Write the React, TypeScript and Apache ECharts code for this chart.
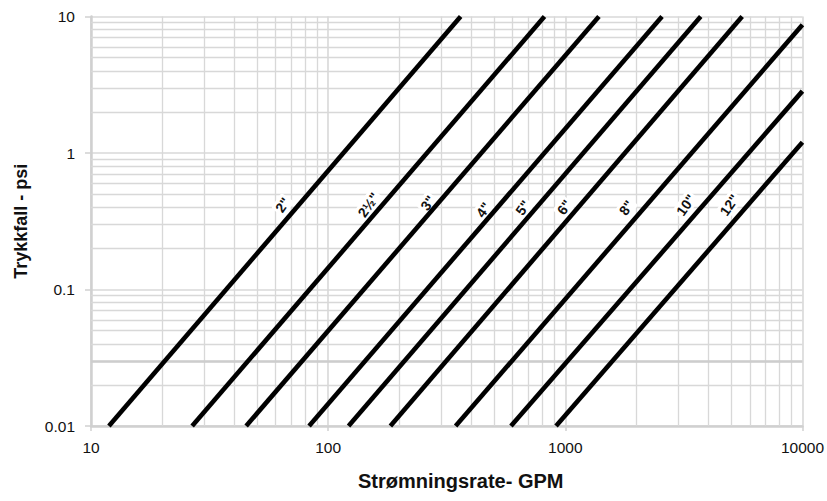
import React, { useEffect, useRef } from 'react';
import * as echarts from 'echarts';

// Pipe sizes and their straight pressure-drop lines (log-log)
const sizes = ['2"', '2½"', '3"', '4"', '5"', '6"', '8"', '10"', '12"'];
const startFlow = [11.9, 26.7, 45.1, 83.1, 121.9, 183, 344.8, 590, 914]; // GPM at 0.01 psi
const startDrop = [0.01, 0.01, 0.01, 0.01, 0.01, 0.01, 0.01, 0.01, 0.01];
const endFlow = [362, 817, 1386, 2558, 3724, 5570, 10000, 10000, 10000];
const endDrop = [10, 10, 10, 10, 10, 10, 8.7, 2.84, 1.2];

// label anchor points (data coords)
const labelFlow = [64.3, 147.8, 263, 451, 662, 990, 1810, 3222, 4918];
const labelDrop = [0.416, 0.416, 0.43, 0.383, 0.397, 0.4, 0.397, 0.416, 0.416];

// axes
const xMin = 10;
const xMax = 10000;
const yMin = 0.01;
const yMax = 10;
const xDecades = [10, 100, 1000];
const yDecades = [0.01, 0.1, 1];
const minorSteps = [2, 3, 4, 5, 6, 7, 8, 9];
const heavyY = [0.03];

const xTitle = 'Strømningsrate- GPM';
const yTitle = 'Trykkfall - psi';

const tickFont = '"Liberation Sans", Arial, sans-serif';
const titleFont = '"Liberation Sans", Arial, sans-serif';

export default function App() {
  const ref = useRef<HTMLDivElement>(null);
  useEffect(() => {
    const chart = echarts.init(ref.current!, null, { renderer: 'svg' });
    const gridColor = '#d8d8d8';
    const minorX = xDecades.flatMap((d) => minorSteps.map((m) => +(d * m).toPrecision(6)));
    const minorY = yDecades.flatMap((d) => minorSteps.map((m) => +(d * m).toPrecision(6)));
    const fmt = (v: number) => String(+Number(v).toPrecision(6));

    const gridSeries: any = {
      type: 'line',
      name: 'grid',
      data: [[xMin, yMin]],
      symbol: 'none',
      lineStyle: { opacity: 0 },
      silent: true,
      z: 1,
      markLine: {
        silent: true,
        z: 1,
        symbol: ['none', 'none'],
        label: { show: false },
        animation: false,
        lineStyle: { color: gridColor, width: 1.3, type: 'solid' },
        data: [
          ...minorX.map((v) => ({ xAxis: v })),
          ...minorY.map((v) => ({ yAxis: v })),
          ...heavyY.map((v) => ({ yAxis: v, lineStyle: { color: '#cdcdcd', width: 2.6, type: 'solid' } })),
        ],
      },
    };

    const lineSeries = sizes.map((s, i) => ({
      type: 'line',
      name: s,
      data: [
        [startFlow[i], startDrop[i]],
        [endFlow[i], endDrop[i]],
      ],
      symbol: 'none',
      showSymbol: false,
      lineStyle: { color: '#000', width: 4.6, type: 'solid' },
      z: 4,
      markPoint: {
        symbol: 'circle',
        symbolSize: 0,
        silent: true,
        z: 2,
        animation: false,
        data: [{ coord: [labelFlow[i], labelDrop[i]], name: s }],
        label: {
          show: true,
          position: 'inside',
          formatter: s,
          rotate: 55,
          color: '#111',
          fontWeight: 'bold',
          fontSize: 14,
          fontFamily: tickFont,
          backgroundColor: '#fff',
          padding: [1, 2],
          borderRadius: 3,
        },
      },
    }));

    chart.setOption({
      animation: false,
      backgroundColor: '#fff',
      grid: { left: 91, right: 16, top: 16.5, bottom: 75, containLabel: false },
      xAxis: {
        type: 'log',
        logBase: 10,
        min: xMin,
        max: xMax,
        name: xTitle,
        nameLocation: 'middle',
        nameGap: 45,
        nameTextStyle: {
          fontFamily: titleFont,
          fontWeight: 'bold',
          fontSize: 20,
          color: '#111',
          padding: [0, 0, 0, 28],
        },
        axisLine: { show: true, lineStyle: { color: '#d0d0d0', width: 2.5 } },
        axisTick: { show: true, length: 5, lineStyle: { color: '#d0d0d0', width: 1.5 } },
        axisLabel: { fontFamily: tickFont, fontSize: 15.5, color: '#111', margin: 13, formatter: fmt },
        splitLine: { show: true, lineStyle: { color: gridColor, width: 1.6 } },
      },
      yAxis: {
        type: 'log',
        logBase: 10,
        min: yMin,
        max: yMax,
        name: yTitle,
        nameLocation: 'middle',
        nameGap: 61,
        nameTextStyle: {
          fontFamily: titleFont,
          fontWeight: 'bold',
          fontSize: 18,
          color: '#111',
        },
        axisLine: { show: true, lineStyle: { color: '#d0d0d0', width: 2.5 } },
        axisTick: { show: true, length: 6, lineStyle: { color: '#d0d0d0', width: 1.5 } },
        axisLabel: { fontFamily: tickFont, fontSize: 15.5, color: '#111', margin: 16, formatter: fmt },
        splitLine: { show: true, lineStyle: { color: gridColor, width: 1.6 } },
      },
      series: [gridSeries, ...lineSeries],
    });
    return () => chart.dispose();
  }, []);
  return (
    <div
      ref={ref}
      style={{ position: 'fixed', left: 0, top: 0, width: 827, height: 501, background: '#fff' }}
    />
  );
}
